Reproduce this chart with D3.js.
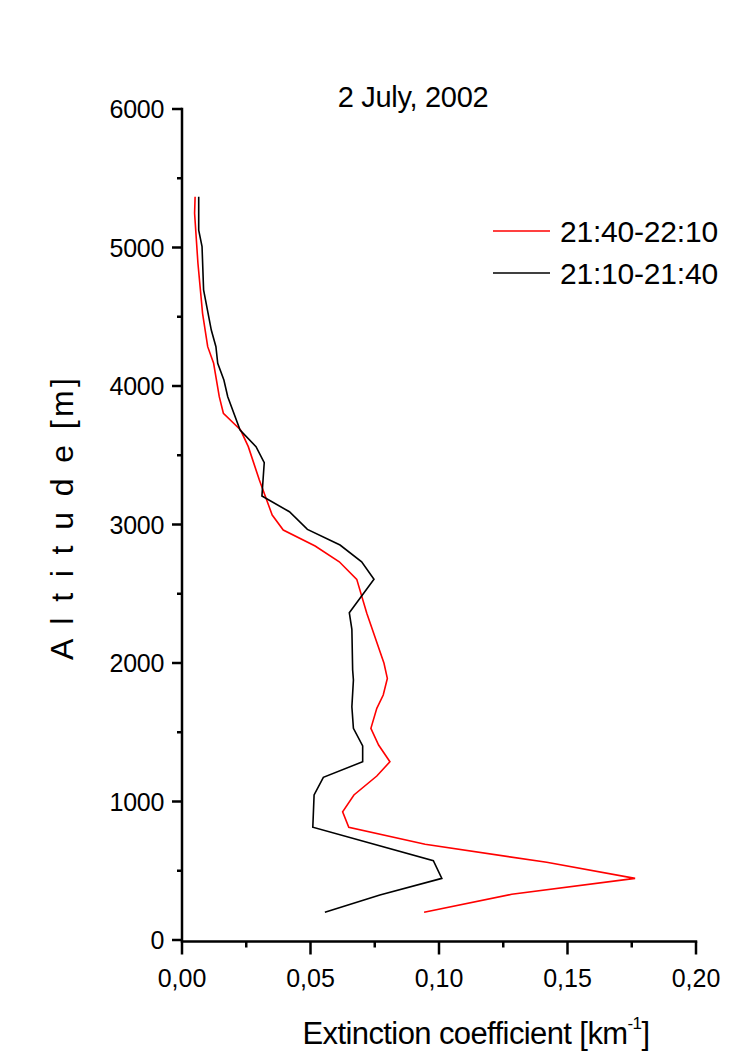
<!DOCTYPE html>
<html>
<head>
<meta charset="utf-8">
<script src="https://cdn.jsdelivr.net/npm/d3@7"></script>
<style>
  html, body { margin: 0; padding: 0; background: #fff; }
  svg text { font-family: "Liberation Sans", Arial, sans-serif; fill: #000; }
</style>
</head>
<body>
<div id="chart"></div>
<script>
// Extinction profiles, [extinction km^-1, altitude m]
const series2140 = [
  [0.0051, 5367], [0.0049, 5247], [0.0062, 4886], [0.0080, 4525], [0.0100, 4284],
  [0.0123, 4164], [0.0145, 3923], [0.0161, 3803], [0.0228, 3682], [0.0258, 3562],
  [0.0301, 3321], [0.0351, 3068], [0.0394, 2960], [0.0518, 2845], [0.0612, 2731],
  [0.0680, 2604], [0.0719, 2359], [0.0786, 1998], [0.0799, 1889], [0.0783, 1769],
  [0.0758, 1673], [0.0735, 1528], [0.0765, 1408], [0.0809, 1287], [0.0758, 1184],
  [0.0669, 1047], [0.0625, 926], [0.0649, 814], [0.0946, 691], [0.1419, 561],
  [0.1763, 445], [0.1283, 330], [0.0942, 200]
];
const series2110 = [
  [0.0065, 5367], [0.0065, 5126], [0.0078, 5006], [0.0084, 4693], [0.0114, 4404],
  [0.0132, 4284], [0.0139, 4164], [0.0163, 4043], [0.0178, 3923], [0.0226, 3682],
  [0.0288, 3562], [0.0320, 3446], [0.0311, 3206], [0.0418, 3092], [0.0488, 2965],
  [0.0615, 2852], [0.0699, 2731], [0.0747, 2604], [0.0651, 2363], [0.0661, 2243],
  [0.0664, 1949], [0.0667, 1877], [0.0661, 1684], [0.0667, 1528], [0.0703, 1401],
  [0.0703, 1287], [0.0550, 1175], [0.0514, 1047], [0.0509, 814], [0.0978, 573],
  [0.1011, 445], [0.0770, 325], [0.0556, 200]
];
const seriesNames = ['21:40-22:10', '21:10-21:40'];
const seriesColors = ['#ff0000', '#000000'];
const xTicks = [0, 0.05, 0.10, 0.15, 0.20];
const xMinor = [0.025, 0.075, 0.125, 0.175];
const yTicks = [0, 1000, 2000, 3000, 4000, 5000, 6000];
const yMinor = [500, 1500, 2500, 3500, 4500, 5500];

const width = 743, height = 1063;
const margin = { left: 182, right: 47, top: 109, bottom: 123 };

const svg = d3.select('#chart').append('svg')
  .attr('width', width)
  .attr('height', height);

const x = d3.scaleLinear().domain([0, 0.20]).range([margin.left, width - margin.right]);
const y = d3.scaleLinear().domain([0, 6000]).range([height - margin.bottom, margin.top]);

const fmtX = v => d3.format('.2f')(v).replace('.', ',');

// x axis
const xAxisY = y(0) + 1.5;
svg.append('line')
  .attr('x1', x(0) - 1.25).attr('x2', x(0.20) + 1.25)
  .attr('y1', xAxisY).attr('y2', xAxisY)
  .attr('stroke', '#000').attr('stroke-width', 2.5);
svg.append('g').selectAll('line').data(xTicks).join('line')
  .attr('x1', d => x(d)).attr('x2', d => x(d))
  .attr('y1', xAxisY).attr('y2', xAxisY + 13)
  .attr('stroke', '#000').attr('stroke-width', 2.5);
svg.append('g').selectAll('line').data(xMinor).join('line')
  .attr('x1', d => x(d)).attr('x2', d => x(d))
  .attr('y1', xAxisY).attr('y2', xAxisY + 6)
  .attr('stroke', '#000').attr('stroke-width', 2.5);
svg.append('g').selectAll('text').data(xTicks).join('text')
  .attr('x', d => x(d)).attr('y', 987)
  .attr('text-anchor', 'middle')
  .attr('font-size', '25px')
  .text(fmtX);

// y axis
const yAxisX = x(0);
svg.append('line')
  .attr('x1', yAxisX).attr('x2', yAxisX)
  .attr('y1', y(6000) - 1.25).attr('y2', xAxisY)
  .attr('stroke', '#000').attr('stroke-width', 2.5);
svg.append('g').selectAll('line').data(yTicks).join('line')
  .attr('x1', yAxisX - 10).attr('x2', yAxisX)
  .attr('y1', d => y(d)).attr('y2', d => y(d))
  .attr('stroke', '#000').attr('stroke-width', 2.5);
svg.append('g').selectAll('line').data(yMinor).join('line')
  .attr('x1', yAxisX - 5).attr('x2', yAxisX)
  .attr('y1', d => y(d)).attr('y2', d => y(d))
  .attr('stroke', '#000').attr('stroke-width', 2.5);
svg.append('g').selectAll('text').data(yTicks).join('text')
  .attr('x', 164).attr('y', d => y(d) + 9)
  .attr('text-anchor', 'end')
  .attr('font-size', '25px')
  .attr('letter-spacing', '-0.3px')
  .text(d => d);

// lines
const line = d3.line().x(d => x(d[0])).y(d => y(d[1]));
[series2140, series2110].forEach((s, i) => {
  svg.append('path')
    .datum(s)
    .attr('d', line)
    .attr('fill', 'none')
    .attr('stroke', seriesColors[i])
    .attr('stroke-width', 1.6)
    .attr('stroke-linejoin', 'miter');
});

// title
svg.append('text')
  .attr('x', 413).attr('y', 107)
  .attr('text-anchor', 'middle')
  .attr('font-size', '29px')
  .attr('letter-spacing', '-0.3px')
  .text('2 July, 2002');

// legend
const legendRows = [231, 273];
seriesNames.forEach((name, i) => {
  svg.append('line')
    .attr('x1', 493).attr('x2', 550)
    .attr('y1', legendRows[i]).attr('y2', legendRows[i])
    .attr('stroke', seriesColors[i]).attr('stroke-width', 1.6);
  svg.append('text')
    .attr('x', 560).attr('y', legendRows[i] + 11)
    .attr('font-size', '30px')
    .attr('letter-spacing', '-0.2px')
    .text(name);
});

// axis titles
const xt = svg.append('text')
  .attr('x', 476).attr('y', 1044)
  .attr('text-anchor', 'middle')
  .attr('font-size', '31px')
  .attr('letter-spacing', '-0.6px');
xt.append('tspan').text('Extinction coefficient [km');
xt.append('tspan').attr('font-size', '17px').attr('dy', -15).text('-1');
xt.append('tspan').attr('dy', 15).text(']');

svg.append('text')
  .attr('transform', 'translate(73,519) rotate(-90)')
  .attr('text-anchor', 'middle')
  .attr('font-size', '32px')
  .attr('textLength', 282)
  .attr('lengthAdjust', 'spacing')
  .text('A l t i t u d e [m]');
</script>
</body>
</html>
